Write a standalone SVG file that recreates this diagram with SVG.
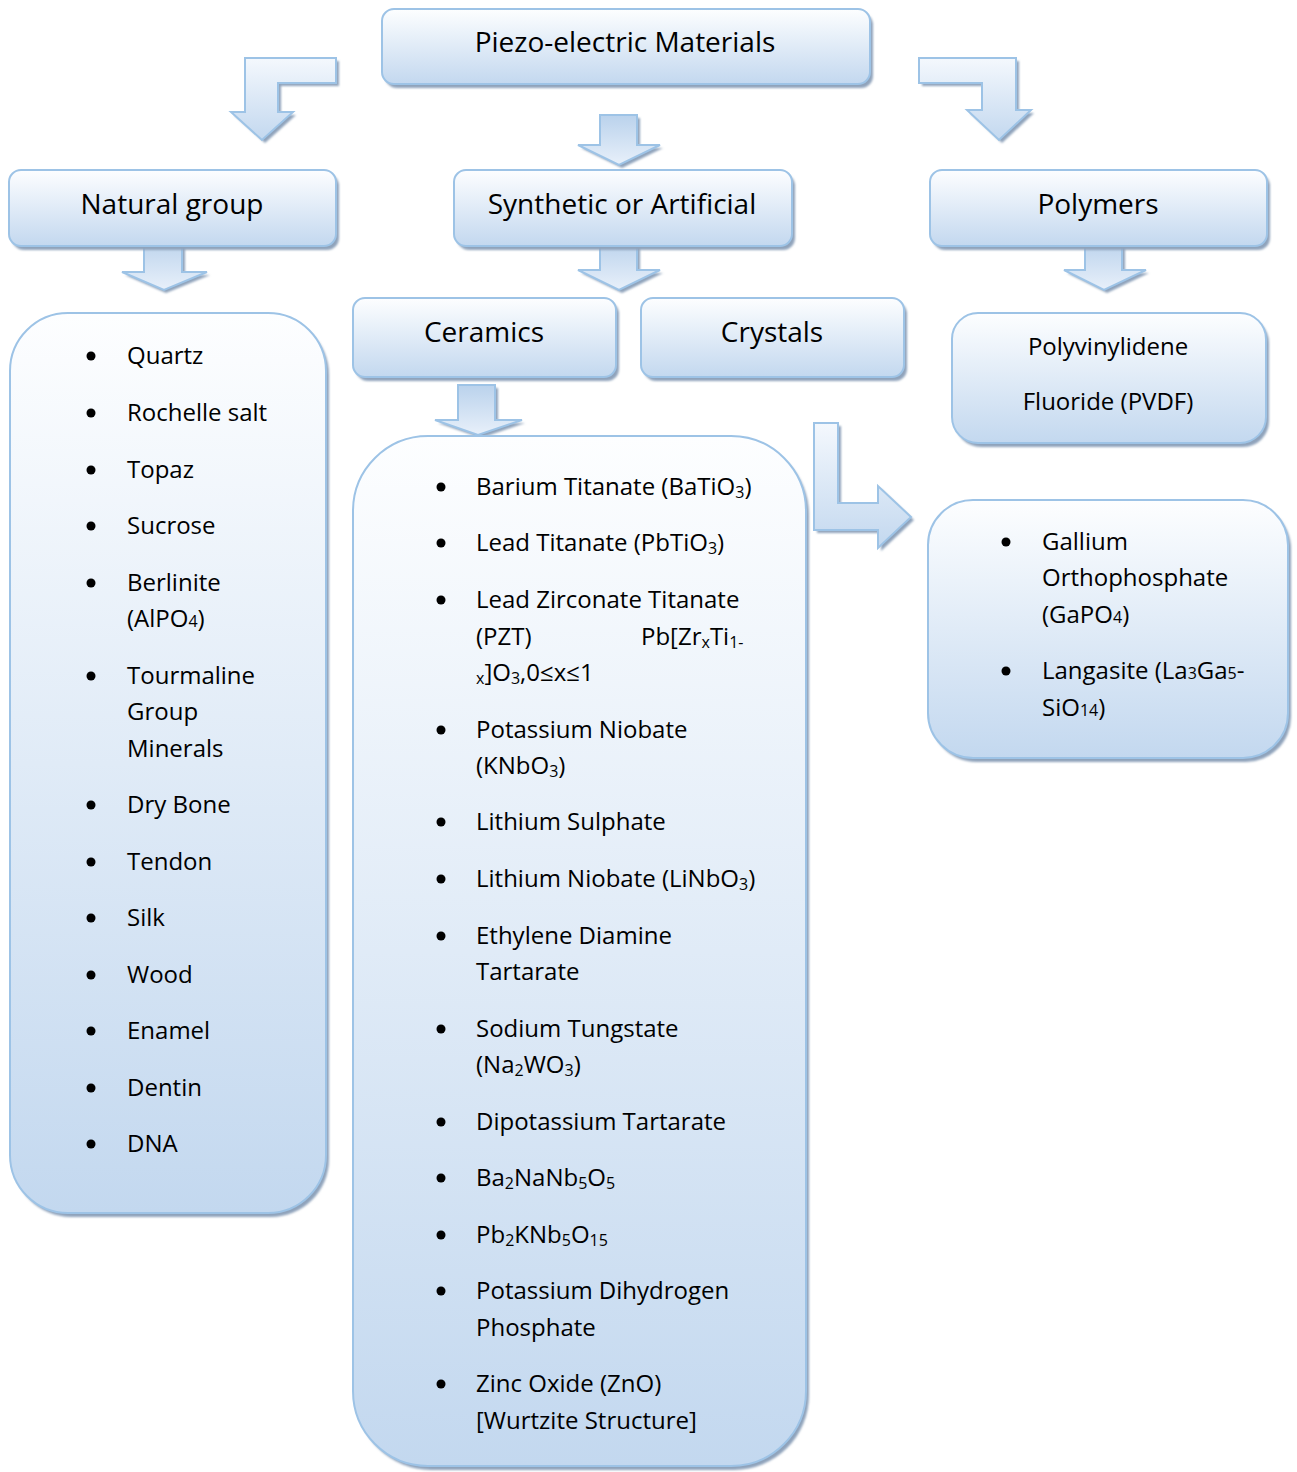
<svg xmlns="http://www.w3.org/2000/svg" width="1297" height="1472" viewBox="0 0 1297 1472">
<defs>
<linearGradient id="gBox" x1="0" y1="0" x2="0" y2="1">
<stop offset="0" stop-color="#fdfeff"/>
<stop offset="1" stop-color="#c3d8ef"/>
</linearGradient>
<linearGradient id="gArrow" x1="0" y1="0" x2="0" y2="1">
<stop offset="0" stop-color="#f4f8fd"/>
<stop offset="1" stop-color="#c3d8ef"/>
</linearGradient>
<linearGradient id="gArrowDown" x1="0" y1="0" x2="0" y2="1">
<stop offset="0" stop-color="#bad2ec"/>
<stop offset="1" stop-color="#e8f0fa"/>
</linearGradient>
<filter id="blur" x="-5%" y="-5%" width="110%" height="110%">
<feGaussianBlur stdDeviation="1.2"/>
</filter>
</defs>
<style>
.box{fill:url(#gBox);stroke:#9dc3e6;stroke-width:2}
.sh{fill:#8fa3bb;filter:url(#blur)}
.arr{fill:url(#gArrow);stroke:#9dc3e6;stroke-width:2;stroke-linejoin:miter}
.arrd{fill:url(#gArrowDown);stroke:#9dc3e6;stroke-width:2;stroke-linejoin:miter}
.ash{fill:#8fa3bb;filter:url(#blur)}
.h{font-family:"Open Sans","Noto Sans",sans-serif;font-size:28px;fill:#000;text-anchor:middle}
.t{font-family:"Open Sans","Noto Sans",sans-serif;font-size:24px;fill:#000}
.pv{font-family:"Open Sans","Noto Sans",sans-serif;font-size:24px;fill:#000;text-anchor:middle}
.s{font-size:16px}
.b{fill:#000}
</style>
<rect width="1297" height="1472" fill="#ffffff"/>

<g id="connectors">
<path class="ash" d="M339 61 L248 61 L248 115 L234 115 L265 143 L296 115 L281 115 L281 86 L339 86 Z"/>
<path class="arr" d="M336 58 L245 58 L245 112 L231 112 L262 140 L293 112 L278 112 L278 83 L336 83 Z"/>
<path class="ash" d="M922 61 L1019 61 L1019 113 L1034 113 L1002 143 L970 113 L985 113 L985 86 L922 86 Z"/>
<path class="arr" d="M919 58 L1016 58 L1016 110 L1031 110 L999 140 L967 110 L982 110 L982 83 L919 83 Z"/>
<path class="ash" d="M603 118 L640 118 L640 148 L663 148 L622 168 L581 148 L603 148 Z"/>
<path class="arrd" d="M600 115 L637 115 L637 145 L660 145 L619 165 L578 145 L600 145 Z"/>
<path class="ash" d="M147 241 L185 241 L185 275 L210 275 L166 293 L125 275 L147 275 Z"/>
<path class="arrd" d="M144 238 L182 238 L182 272 L207 272 L164 290 L122 272 L144 272 Z"/>
<path class="ash" d="M603 243 L640 243 L640 273 L663 273 L622 293 L581 273 L603 273 Z"/>
<path class="arrd" d="M600 240 L637 240 L637 270 L660 270 L619 290 L578 270 L600 270 Z"/>
<path class="ash" d="M1088 243 L1125 243 L1125 273 L1149 273 L1107 293 L1067 273 L1088 273 Z"/>
<path class="arrd" d="M1085 240 L1122 240 L1122 270 L1146 270 L1104 290 L1064 270 L1085 270 Z"/>
<path class="ash" d="M461 388 L498 388 L498 423 L525 423 L481 438 L438 423 L461 423 Z"/>
<path class="arrd" d="M458 385 L495 385 L495 420 L522 420 L478 435 L435 420 L458 420 Z"/>
<path class="ash" d="M817 426 L841 426 L841 506 L881 506 L881 489 L914 520 L881 551 L881 533 L817 533 Z"/>
<path class="arr" d="M814 423 L838 423 L838 503 L878 503 L878 486 L911 517 L878 548 L878 530 L814 530 Z"/>
</g>

<g id="node-piezo">
<rect class="sh" x="385" y="13" width="488" height="75" rx="12"/>
<rect class="box" x="382" y="9" width="488" height="75" rx="12"/>
<text class="h" x="625" y="52">Piezo-electric Materials</text>
</g>

<g id="node-natural">
<rect class="sh" x="12" y="174" width="327" height="76" rx="12"/>
<rect class="box" x="9" y="170" width="327" height="76" rx="12"/>
<text class="h" x="172" y="214">Natural group</text>
</g>

<g id="node-synthetic">
<rect class="sh" x="457" y="174" width="338" height="76" rx="12"/>
<rect class="box" x="454" y="170" width="338" height="76" rx="12"/>
<text class="h" x="622" y="214">Synthetic or Artificial</text>
</g>

<g id="node-polymers">
<rect class="sh" x="933" y="174" width="337" height="76" rx="12"/>
<rect class="box" x="930" y="170" width="337" height="76" rx="12"/>
<text class="h" x="1098" y="214">Polymers</text>
</g>

<g id="node-ceramics">
<rect class="sh" x="356" y="302" width="263" height="79" rx="12"/>
<rect class="box" x="353" y="298" width="263" height="79" rx="12"/>
<text class="h" x="484" y="342">Ceramics</text>
</g>

<g id="node-crystals">
<rect class="sh" x="644" y="302" width="263" height="79" rx="12"/>
<rect class="box" x="641" y="298" width="263" height="79" rx="12"/>
<text class="h" x="772" y="342">Crystals</text>
</g>

<g id="node-pvdf">
<rect class="sh" x="955" y="317" width="314" height="130" rx="26"/>
<rect class="box" x="952" y="313" width="314" height="130" rx="26"/>
<text class="pv" x="1108" y="355">Polyvinylidene</text>
<text class="pv" x="1108" y="410">Fluoride (PVDF)</text>
</g>

<g id="node-natural-list">
<rect class="sh" x="13" y="317" width="316" height="900" rx="58"/>
<rect class="box" x="10" y="313" width="316" height="900" rx="58"/>
<g class="b">
<circle cx="91" cy="356" r="4.5"/><circle cx="91" cy="413" r="4.5"/><circle cx="91" cy="470" r="4.5"/>
<circle cx="91" cy="526" r="4.5"/><circle cx="91" cy="583" r="4.5"/><circle cx="91" cy="676" r="4.5"/>
<circle cx="91" cy="805" r="4.5"/><circle cx="91" cy="862" r="4.5"/><circle cx="91" cy="918" r="4.5"/>
<circle cx="91" cy="975" r="4.5"/><circle cx="91" cy="1031" r="4.5"/><circle cx="91" cy="1088" r="4.5"/>
<circle cx="91" cy="1144" r="4.5"/>
</g>
<text class="t" x="127" y="364">Quartz</text>
<text class="t" x="127" y="421">Rochelle salt</text>
<text class="t" x="127" y="478">Topaz</text>
<text class="t" x="127" y="534">Sucrose</text>
<text class="t" x="127" y="591">Berlinite</text>
<text class="t" x="127" y="627">(AlPO<tspan class="s">4</tspan>)</text>
<text class="t" x="127" y="684">Tourmaline</text>
<text class="t" x="127" y="720">Group</text>
<text class="t" x="127" y="757">Minerals</text>
<text class="t" x="127" y="813">Dry Bone</text>
<text class="t" x="127" y="870">Tendon</text>
<text class="t" x="127" y="926">Silk</text>
<text class="t" x="127" y="983">Wood</text>
<text class="t" x="127" y="1039">Enamel</text>
<text class="t" x="127" y="1096">Dentin</text>
<text class="t" x="127" y="1152">DNA</text>
</g>

<g id="node-ceramics-list">
<rect class="sh" x="356" y="440" width="453" height="1030" rx="75"/>
<rect class="box" x="353" y="436" width="453" height="1030" rx="75"/>
<g class="b">
<circle cx="441" cy="487" r="4.5"/><circle cx="441" cy="543" r="4.5"/><circle cx="441" cy="600" r="4.5"/>
<circle cx="441" cy="730" r="4.5"/><circle cx="441" cy="822" r="4.5"/><circle cx="441" cy="879" r="4.5"/>
<circle cx="441" cy="936" r="4.5"/><circle cx="441" cy="1029" r="4.5"/><circle cx="441" cy="1122" r="4.5"/>
<circle cx="441" cy="1178" r="4.5"/><circle cx="441" cy="1235" r="4.5"/><circle cx="441" cy="1291" r="4.5"/>
<circle cx="441" cy="1384" r="4.5"/>
</g>
<text class="t" x="476" y="495">Barium Titanate (BaTiO<tspan class="s" dy="3">3</tspan><tspan dy="-3">)</tspan></text>
<text class="t" x="476" y="551">Lead Titanate (PbTiO<tspan class="s" dy="3">3</tspan><tspan dy="-3">)</tspan></text>
<text class="t" x="476" y="608">Lead Zirconate Titanate</text>
<text class="t" x="476" y="645">(PZT)</text>
<text class="t" x="641" y="645">Pb[Zr<tspan class="s" dy="3">x</tspan><tspan dy="-3">Ti</tspan><tspan class="s" dy="3">1-</tspan></text>
<text class="t" x="476" y="681"><tspan class="s" dy="3">x</tspan><tspan dy="-3">]O</tspan><tspan class="s" dy="3">3</tspan><tspan dy="-3">,0≤x≤1</tspan></text>
<text class="t" x="476" y="738">Potassium Niobate</text>
<text class="t" x="476" y="774">(KNbO<tspan class="s" dy="3">3</tspan><tspan dy="-3">)</tspan></text>
<text class="t" x="476" y="830">Lithium Sulphate</text>
<text class="t" x="476" y="887">Lithium Niobate (LiNbO<tspan class="s" dy="3">3</tspan><tspan dy="-3">)</tspan></text>
<text class="t" x="476" y="944">Ethylene Diamine</text>
<text class="t" x="476" y="980">Tartarate</text>
<text class="t" x="476" y="1037">Sodium Tungstate</text>
<text class="t" x="476" y="1073">(Na<tspan class="s" dy="3">2</tspan><tspan dy="-3">WO</tspan><tspan class="s" dy="3">3</tspan><tspan dy="-3">)</tspan></text>
<text class="t" x="476" y="1130">Dipotassium Tartarate</text>
<text class="t" x="476" y="1186">Ba<tspan class="s" dy="3">2</tspan><tspan dy="-3">NaNb</tspan><tspan class="s" dy="3">5</tspan><tspan dy="-3">O</tspan><tspan class="s" dy="3">5</tspan></text>
<text class="t" x="476" y="1243">Pb<tspan class="s" dy="3">2</tspan><tspan dy="-3">KNb</tspan><tspan class="s" dy="3">5</tspan><tspan dy="-3">O</tspan><tspan class="s" dy="3">15</tspan></text>
<text class="t" x="476" y="1299">Potassium Dihydrogen</text>
<text class="t" x="476" y="1336">Phosphate</text>
<text class="t" x="476" y="1392">Zinc Oxide (ZnO)</text>
<text class="t" x="476" y="1429">[Wurtzite Structure]</text>
</g>

<g id="node-crystals-list">
<rect class="sh" x="931" y="504" width="360" height="258" rx="45"/>
<rect class="box" x="928" y="500" width="360" height="258" rx="45"/>
<g class="b">
<circle cx="1006" cy="542" r="4.5"/><circle cx="1006" cy="671" r="4.5"/>
</g>
<text class="t" x="1042" y="550">Gallium</text>
<text class="t" x="1042" y="586">Orthophosphate</text>
<text class="t" x="1042" y="623">(GaPO<tspan class="s">4</tspan>)</text>
<text class="t" x="1042" y="679">Langasite (La<tspan class="s">3</tspan>Ga<tspan class="s">5</tspan>-</text>
<text class="t" x="1042" y="716">SiO<tspan class="s">14</tspan>)</text>
</g>
</svg>
